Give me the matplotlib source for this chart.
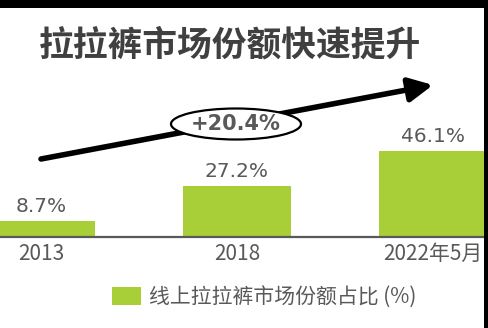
import matplotlib
matplotlib.use("Agg")
import matplotlib.pyplot as plt
from matplotlib.patches import Ellipse, Rectangle

plt.rcParams['font.family'] = ['Noto Sans CJK SC', 'DejaVu Sans']

# 数据
categories = ['2013', '2018', '2022年5月']
share = [8.7, 27.2, 46.1]
value_labels = ['8.7%', '27.2%', '46.1%']
growth_label = '+20.4%'
title = '拉拉裤市场份额快速提升'
legend_label = '线上拉拉裤市场份额占比 (%)'

green = '#A8CE38'
gray = '#595959'

W, H = 489, 328
fig = plt.figure(figsize=(W / 100, H / 100), dpi=100)
fig.patch.set_facecolor('white')

# 柱状图区域, 基线在 y=237px
base_y = 237
top_y = 8
ax = fig.add_axes([0, (H - base_y) / H, 485 / W, (base_y - top_y) / H])
x = list(range(len(categories)))
ax.bar(x, share, width=0.55, color=green, label=legend_label)
ax.set_xlim(-0.209, -0.209 + 485 / 196)
ax.set_ylim(0, (base_y - top_y) / 1.875)

for i, v in enumerate(share):
    ax.text(i, v + 7.5, value_labels[i], ha='center', va='center',
            fontsize=14.5, color=gray, family=['DejaVu Sans', 'Noto Sans CJK SC'])

ax.set_xticks(x)
ax.set_xticklabels(categories, fontsize=15, color=gray)
ax.tick_params(axis='x', length=0, pad=4)
ax.set_yticks([])
for s in ['top', 'right', 'left']:
    ax.spines[s].set_visible(False)
ax.spines['bottom'].set_color('#595959')
ax.spines['bottom'].set_linewidth(1.6)
ax.set_facecolor('none')

# 标题
fig.text(230 / W, 1 - 45 / H, title, ha='center', va='center',
         fontsize=25, fontweight='bold', color='#404040')

# 增长箭头
ax.annotate('', xy=(433, H - 85), xytext=(41, H - 159),
            xycoords='figure pixels', textcoords='figure pixels',
            arrowprops=dict(arrowstyle='-|>,head_length=0.9,head_width=0.45',
                            lw=4, color='black', mutation_scale=16,
                            shrinkA=0, shrinkB=0))
ell = Ellipse((236 / W, 1 - 124 / H), 130 / W, 31 / H, transform=fig.transFigure,
              facecolor='white', edgecolor='black', lw=1.6, zorder=5)
fig.patches.append(ell)
fig.text(236 / W, 1 - 124 / H, growth_label, ha='center', va='center',
         fontsize=15, fontweight='bold', color=gray, zorder=6,
         family=['DejaVu Sans', 'Noto Sans CJK SC'])

# 图例
fig.legend(loc='center', bbox_to_anchor=(264 / W, 1 - 297 / H), frameon=False,
           fontsize=15, handlelength=1.4, handleheight=1.0, handletextpad=0.4,
           labelcolor=gray)

# 截图边框
fig.patches.append(Rectangle((0, 1 - 7.5 / H), 1, 7.5 / H, transform=fig.transFigure,
                             facecolor='black', edgecolor='none', zorder=10))
fig.patches.append(Rectangle((484 / W, 0), 5 / W, 1, transform=fig.transFigure,
                             facecolor='black', edgecolor='none', zorder=10))

fig.savefig('out.png', dpi=100)
